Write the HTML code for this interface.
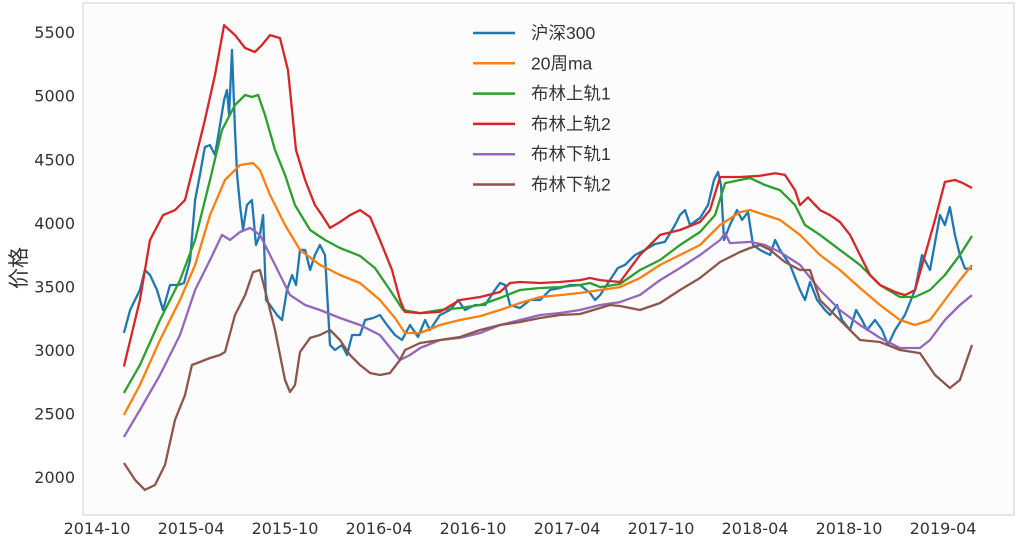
<!DOCTYPE html>
<html><head><meta charset="utf-8"><style>
body{margin:0;background:#fff}
svg text{font-family:"Liberation Sans","Noto Sans CJK SC",sans-serif;fill:#333}
svg text.tick{font-family:"DejaVu Sans","Liberation Sans",sans-serif}
</style></head><body>
<svg id="chart" width="1020" height="543" xmlns="http://www.w3.org/2000/svg">
<rect x="83" y="3" width="931" height="512" fill="#fcfcfc" stroke="#cfcfcf" stroke-width="1"/>
<g id="yticks"></g>
<g id="xticks"></g>
<text x="26" y="268" font-size="21" text-anchor="middle" transform="rotate(-90 26 268)">价格</text>
<g id="series"></g>
<g id="legend"></g>
</svg>
<script>
const yTicks=[2000,2500,3000,3500,4000,4500,5000,5500];
const xTickLabels=["2014-10","2015-04","2015-10","2016-04","2016-10","2017-04","2017-10","2018-04","2018-10","2019-04"];
const seriesNames=["沪深300","20周ma","布林上轨1","布林上轨2","布林下轨1","布林下轨2"];
const price=[[1.72,3134],[2.11,3315],[2.74,3472],[3.06,3629],[3.38,3590],[3.83,3472],[4.21,3315],[4.66,3511],[5.17,3511],[5.55,3527],[5.94,3708],[6.26,4180],[6.57,4377],[6.89,4597],[7.21,4612],[7.53,4534],[7.85,4770],[8.11,4966],[8.30,5045],[8.43,4848],[8.62,5360],[8.81,4730],[8.94,4377],[9.13,4140],[9.32,3944],[9.57,4140],[9.89,4180],[10.15,3826],[10.40,3905],[10.60,4062],[10.79,3393],[11.04,3354],[11.49,3275],[11.81,3236],[12.13,3472],[12.45,3590],[12.70,3511],[12.96,3787],[13.28,3787],[13.60,3629],[13.91,3747],[14.23,3826],[14.55,3747],[14.87,3039],[15.19,3000],[15.64,3039],[15.96,2961],[16.28,3118],[16.79,3118],[17.11,3236],[17.62,3252],[18.06,3275],[18.51,3197],[19.02,3118],[19.47,3079],[19.98,3197],[20.49,3102],[20.94,3236],[21.25,3157],[21.89,3275],[22.53,3315],[23.04,3393],[23.49,3315],[24.13,3354],[24.77,3354],[25.40,3472],[25.72,3527],[26.04,3511],[26.36,3354],[27.00,3330],[27.64,3393],[28.28,3393],[28.91,3472],[29.55,3488],[30.19,3511],[30.83,3511],[31.47,3448],[31.79,3393],[32.11,3432],[32.74,3550],[33.25,3645],[33.70,3669],[34.34,3747],[34.98,3787],[35.62,3834],[36.25,3850],[36.89,3983],[37.21,4062],[37.53,4100],[37.85,3983],[38.49,4038],[39.00,4140],[39.38,4337],[39.64,4400],[39.83,4298],[40.02,3865],[40.40,3983],[40.85,4101],[41.17,4023],[41.55,4085],[41.87,3826],[42.32,3787],[42.96,3747],[43.28,3865],[43.59,3787],[44.23,3669],[44.87,3472],[45.19,3393],[45.51,3535],[45.96,3393],[46.47,3315],[46.79,3275],[47.23,3354],[47.55,3236],[48.06,3157],[48.45,3315],[48.83,3236],[49.15,3157],[49.66,3236],[50.11,3157],[50.49,3039],[50.94,3157],[51.57,3275],[52.21,3472],[52.66,3747],[53.17,3629],[53.81,4062],[54.12,3983],[54.44,4124],[54.76,3905],[55.08,3747],[55.40,3640],[55.85,3640]];
const ma=[[1.72,2489],[2.74,2725],[4.02,3079],[5.30,3393],[6.26,3668],[7.21,4062],[8.17,4337],[9.13,4455],[9.96,4471],[10.40,4416],[11.04,4219],[12.00,3983],[12.96,3787],[14.23,3669],[15.51,3590],[16.79,3527],[18.06,3393],[19.02,3252],[19.66,3134],[20.62,3134],[21.89,3197],[23.17,3236],[24.45,3267],[25.72,3315],[27.00,3370],[28.28,3417],[29.55,3432],[30.83,3448],[32.11,3472],[33.38,3495],[34.66,3566],[35.94,3669],[37.21,3747],[38.49,3826],[39.77,3983],[41.04,4085],[41.68,4101],[42.64,4062],[43.59,4023],[44.87,3905],[46.15,3747],[47.42,3629],[48.70,3488],[49.98,3354],[51.25,3236],[52.21,3197],[53.17,3236],[54.12,3393],[55.08,3550],[55.85,3668]];
const upper1=[[1.72,2662],[2.74,2882],[4.02,3236],[5.30,3550],[6.26,3865],[7.21,4337],[7.98,4730],[8.81,4927],[9.45,5006],[9.89,4990],[10.28,5006],[10.72,4848],[11.36,4573],[12.00,4377],[12.64,4140],[13.60,3944],[14.55,3865],[15.51,3802],[16.79,3740],[17.74,3645],[18.70,3472],[19.53,3315],[20.62,3290],[21.89,3315],[23.17,3330],[24.45,3354],[25.72,3409],[27.00,3472],[28.28,3488],[29.55,3495],[30.83,3511],[31.47,3527],[32.11,3495],[33.38,3519],[34.66,3629],[35.94,3708],[37.21,3826],[38.49,3928],[39.45,4062],[40.09,4313],[41.04,4337],[41.68,4353],[42.64,4298],[43.59,4258],[44.55,4140],[45.19,3983],[46.15,3905],[47.42,3787],[48.70,3669],[49.98,3511],[51.25,3417],[52.21,3417],[53.17,3472],[54.12,3590],[55.08,3747],[55.85,3897]];
const upper2=[[1.72,2870],[2.74,3393],[3.38,3865],[4.21,4060],[4.98,4100],[5.62,4180],[6.26,4495],[6.89,4810],[7.53,5163],[8.11,5555],[8.81,5477],[9.45,5375],[10.08,5344],[10.53,5400],[11.04,5477],[11.68,5453],[12.19,5200],[12.70,4573],[13.28,4337],[13.91,4140],[14.36,4060],[14.87,3960],[15.51,4007],[16.15,4060],[16.79,4100],[17.43,4045],[18.06,3865],[18.83,3630],[19.34,3393],[19.66,3300],[20.62,3290],[21.89,3300],[23.17,3393],[24.45,3417],[25.72,3456],[26.36,3527],[27.00,3535],[28.28,3527],[29.55,3535],[30.83,3550],[31.47,3566],[32.11,3550],[33.38,3535],[34.66,3747],[35.94,3905],[37.21,3944],[38.49,4007],[39.13,4100],[39.77,4361],[41.04,4361],[42.32,4370],[43.28,4390],[43.91,4377],[44.55,4258],[44.87,4140],[45.38,4200],[46.15,4100],[46.79,4060],[47.42,4007],[48.06,3905],[48.70,3747],[49.34,3590],[49.98,3511],[50.94,3456],[51.57,3432],[52.21,3470],[52.85,3747],[53.49,4023],[54.12,4322],[54.76,4337],[55.27,4313],[55.85,4274]];
const lower1=[[1.72,2316],[2.74,2528],[4.02,2803],[5.30,3118],[6.26,3472],[7.21,3708],[7.98,3905],[8.49,3865],[9.13,3928],[9.77,3960],[10.40,3905],[11.36,3669],[12.32,3432],[13.28,3354],[14.23,3315],[15.51,3252],[16.79,3197],[18.06,3118],[19.34,2921],[19.98,2961],[20.62,3016],[21.89,3079],[23.17,3095],[24.45,3134],[25.72,3197],[27.00,3236],[28.28,3275],[29.55,3291],[30.83,3315],[32.11,3354],[33.38,3377],[34.66,3433],[35.94,3550],[37.21,3645],[38.49,3747],[39.77,3865],[40.09,3920],[40.40,3841],[41.68,3850],[42.64,3826],[43.59,3771],[44.87,3669],[46.15,3472],[47.42,3315],[48.70,3197],[49.98,3095],[51.25,3016],[52.53,3016],[53.17,3079],[54.12,3236],[55.08,3354],[55.85,3432]];
const lower2=[[1.72,2111],[2.43,1978],[3.06,1900],[3.70,1938],[4.34,2096],[4.98,2450],[5.62,2646],[6.06,2882],[6.57,2906],[7.21,2937],[7.85,2961],[8.17,2984],[8.81,3275],[9.45,3432],[9.96,3613],[10.40,3629],[10.72,3472],[11.36,3157],[12.00,2764],[12.32,2670],[12.64,2725],[12.96,2984],[13.60,3095],[14.23,3118],[14.87,3157],[15.51,3079],[16.15,2961],[16.79,2882],[17.43,2819],[18.06,2803],[18.70,2819],[19.34,2921],[19.66,3000],[20.62,3055],[21.89,3079],[23.17,3102],[24.45,3157],[25.72,3197],[27.00,3220],[28.28,3252],[29.55,3275],[30.83,3283],[32.11,3330],[32.74,3354],[33.38,3346],[34.66,3315],[35.94,3370],[37.21,3472],[38.49,3566],[39.77,3692],[41.04,3771],[41.68,3802],[42.32,3826],[42.96,3787],[43.91,3692],[44.87,3629],[45.51,3629],[46.15,3393],[47.42,3236],[48.70,3079],[49.98,3063],[51.25,3000],[52.53,2976],[53.49,2803],[54.44,2701],[55.08,2764],[55.85,3039]];
const colors=["#1f77b4","#ff7f0e","#2ca02c","#d62728","#9467bd","#8c564b"];
const allSeries=[price,ma,upper1,upper2,lower1,lower2];
const NS="http://www.w3.org/2000/svg";
const xScale=m=>97+m*15.667;
const yScale=v=>350-(v-3000)*63.57/500;
function mk(tag,attrs){const e=document.createElementNS(NS,tag);for(const k in attrs)e.setAttribute(k,attrs[k]);return e;}
const yg=document.getElementById('yticks');
yTicks.forEach(v=>{const t=mk('text',{x:75,y:yScale(v)+6,'font-size':16,'text-anchor':'end','class':'tick'});t.textContent=v;


yg.appendChild(t);});
const xg=document.getElementById('xticks');
xTickLabels.forEach((s,i)=>{const t=mk('text',{x:xScale(i*6),y:534,'font-size':16,'text-anchor':'middle','class':'tick'});t.textContent=s;


xg.appendChild(t);});
const sg=document.getElementById('series');
[0,1,2,3,4,5].forEach(i=>{const d=allSeries[i].map((p,j)=>(j?'L':'M')+xScale(p[0]).toFixed(1)+','+yScale(p[1]).toFixed(1)).join('');
const p=mk('path',{d:d,fill:'none',stroke:colors[i],'stroke-width':2.3,'stroke-linejoin':'round'});


sg.appendChild(p);});
const lg=document.getElementById('legend');
seriesNames.forEach((n,i)=>{const y=33+i*30.3;
const l=mk('line',{x1:473,x2:515,y1:y,y2:y,stroke:colors[i],'stroke-width':2.5});


lg.appendChild(l);
const t=mk('text',{x:531,y:y+6,'font-size':17.5});t.textContent=n;


lg.appendChild(t);});
</script>
</body></html>
